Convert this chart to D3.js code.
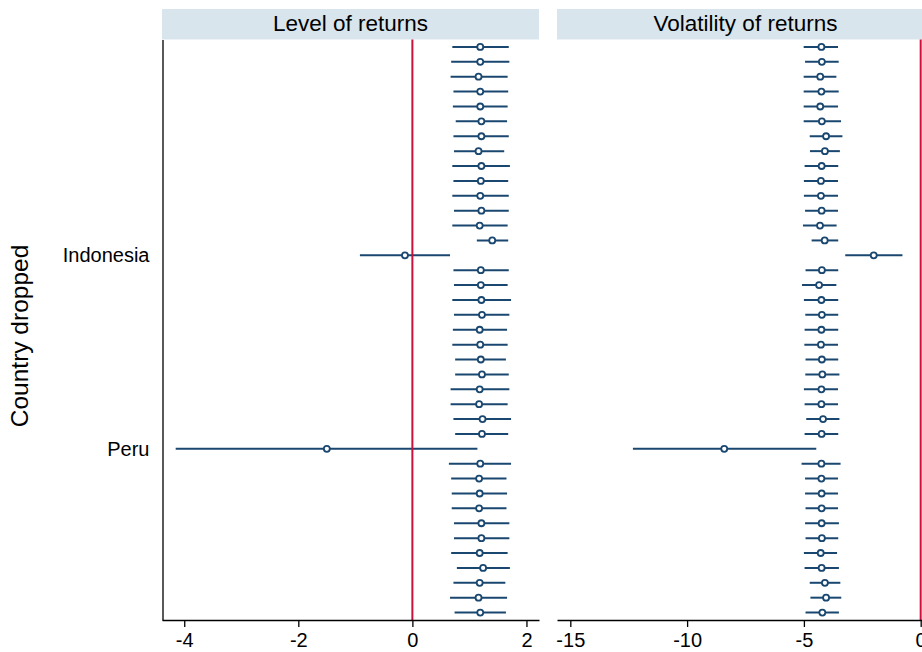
<!DOCTYPE html>
<html>
<head>
<meta charset="utf-8">
<script src="https://cdn.jsdelivr.net/npm/d3@7"></script>
<style>
  html, body { margin: 0; padding: 0; background: #fff; overflow: hidden; }
  svg { display: block; font-family: "Liberation Sans", Arial, Helvetica, sans-serif; }
</style>
</head>
<body>
<svg id="chart" width="922" height="652"></svg>
<script>
// Rows are numbered from the top; only a few carry a country label.
const rowCount = 39;
const labeledRows = [15, 28];
const labeledNames = ["Indonesia", "Peru"];

const panelTitles = ["Level of returns", "Volatility of returns"];
const levelTicks = [-4, -2, 0, 2];
const volTicks = [-15, -10, -5, 0];

// Level of returns: point estimates and confidence bounds
const levelEst = [1.19, 1.19, 1.16, 1.19, 1.19, 1.21, 1.21, 1.16, 1.21, 1.20,
                  1.19, 1.21, 1.18, 1.40, -0.13, 1.20, 1.20, 1.21, 1.22, 1.18,
                  1.19, 1.20, 1.22, 1.18, 1.17, 1.23, 1.22, -1.50, 1.19, 1.17,
                  1.18, 1.17, 1.21, 1.21, 1.18, 1.24, 1.18, 1.16, 1.19];
const levelLo  = [0.70, 0.68, 0.67, 0.72, 0.71, 0.76, 0.72, 0.73, 0.70, 0.72,
                  0.70, 0.73, 0.70, 1.13, -0.92, 0.72, 0.73, 0.70, 0.73, 0.71,
                  0.70, 0.75, 0.75, 0.67, 0.67, 0.72, 0.75, -4.15, 0.64, 0.68,
                  0.69, 0.69, 0.73, 0.73, 0.68, 0.78, 0.72, 0.66, 0.74];
const levelHi  = [1.69, 1.70, 1.67, 1.68, 1.67, 1.66, 1.69, 1.61, 1.71, 1.68,
                  1.69, 1.69, 1.67, 1.68, 0.66, 1.69, 1.67, 1.73, 1.70, 1.66,
                  1.67, 1.64, 1.69, 1.70, 1.67, 1.73, 1.68, 1.14, 1.73, 1.65,
                  1.66, 1.65, 1.70, 1.70, 1.67, 1.71, 1.63, 1.66, 1.64];

// Volatility of returns: point estimates and confidence bounds
const volEst = [-4.25, -4.23, -4.30, -4.25, -4.30, -4.23, -4.05, -4.10, -4.24, -4.27,
                -4.27, -4.24, -4.31, -4.11, -2.01, -4.23, -4.35, -4.25, -4.23, -4.25,
                -4.27, -4.23, -4.21, -4.25, -4.25, -4.18, -4.24, -8.41, -4.25, -4.25,
                -4.24, -4.24, -4.24, -4.23, -4.28, -4.24, -4.10, -4.05, -4.21];
const volLo  = [-5.01, -4.95, -5.01, -5.01, -5.01, -5.01, -4.75, -4.74, -4.97, -5.00,
                -5.00, -4.95, -5.04, -4.67, -3.23, -4.93, -5.08, -5.00, -4.94, -4.97,
                -4.98, -4.93, -4.94, -5.00, -4.97, -4.90, -4.97, -12.32, -5.10, -4.95,
                -4.95, -4.93, -4.95, -4.93, -5.00, -4.97, -4.75, -4.72, -4.93];
const volHi  = [-3.54, -3.51, -3.61, -3.51, -3.54, -3.41, -3.35, -3.46, -3.53, -3.54,
                -3.54, -3.54, -3.60, -3.53, -0.78, -3.53, -3.61, -3.53, -3.53, -3.53,
                -3.54, -3.53, -3.48, -3.54, -3.54, -3.48, -3.53, -4.47, -3.43, -3.54,
                -3.54, -3.54, -3.50, -3.53, -3.58, -3.50, -3.44, -3.40, -3.50];

const rows = d3.range(1, rowCount + 1);

const svg = d3.select("#chart");
const navy = "#1a476f";
const red = "#c9113d";
const strip = "#d9e5ec";

const plotTop = 39.5, plotBottom = 620, stripTop = 9;

const y = d3.scaleLinear().domain([0.5, rowCount + 0.5]).range([plotTop, plotBottom]);

const panels = [
  { title: panelTitles[0], x0: 162, x1: 539, domain: [-4.39, 2.22], ticks: levelTicks,
    est: levelEst, lo: levelLo, hi: levelHi, leftAxis: true },
  { title: panelTitles[1], x0: 557, x1: 934, domain: [-15.57, 0.57], ticks: volTicks,
    est: volEst, lo: volLo, hi: volHi, leftAxis: false }
];

panels.forEach(p => {
  const x = d3.scaleLinear().domain(p.domain).range([p.x0, p.x1]);
  const g = svg.append("g");

  // header strip
  g.append("rect")
    .attr("x", p.x0).attr("y", stripTop)
    .attr("width", p.x1 - p.x0).attr("height", plotTop - stripTop)
    .attr("fill", strip);
  g.append("text")
    .attr("x", (p.x0 + p.x1) / 2).attr("y", 31)
    .attr("text-anchor", "middle")
    .attr("font-size", "22.5px").attr("fill", "#000")
    .text(p.title);

  // confidence intervals
  g.selectAll("line.ci").data(rows).enter().append("line")
    .attr("class", "ci")
    .attr("x1", (r, i) => x(p.lo[i])).attr("x2", (r, i) => x(p.hi[i]))
    .attr("y1", r => y(r)).attr("y2", r => y(r))
    .attr("stroke", navy).attr("stroke-width", 2);

  // reference line at zero
  g.append("line")
    .attr("x1", x(0)).attr("x2", x(0))
    .attr("y1", plotTop).attr("y2", plotBottom)
    .attr("stroke", red).attr("stroke-width", 2);

  // point estimates
  g.selectAll("circle.pt").data(rows).enter().append("circle")
    .attr("class", "pt")
    .attr("cx", (r, i) => x(p.est[i])).attr("cy", r => y(r))
    .attr("r", 3)
    .attr("fill", "#fff").attr("stroke", navy).attr("stroke-width", 1.8);

  // x axis
  const ax = g.append("g")
    .attr("transform", `translate(0,${plotBottom})`)
    .call(d3.axisBottom(x).tickValues(p.ticks).tickFormat(d => String(d))
      .tickSize(7).tickSizeOuter(0).tickPadding(6));
  ax.select(".domain").attr("stroke", "#000").attr("stroke-width", 1.3);
  ax.selectAll(".tick line").attr("stroke", "#000").attr("stroke-width", 1.3);
  ax.selectAll(".tick text").attr("font-size", "20px").attr("fill", "#000")
    .attr("font-family", "Liberation Sans, Arial, Helvetica, sans-serif");

  if (p.leftAxis) {
    const ay = g.append("g")
      .attr("transform", `translate(${p.x0 + 0.5},0)`)
      .call(d3.axisLeft(y).tickValues(labeledRows)
        .tickFormat(r => labeledNames[labeledRows.indexOf(r)])
        .tickSize(0).tickSizeOuter(0).tickPadding(13));
    ay.select(".domain").attr("stroke", "#000").attr("stroke-width", 1.3);
    ay.selectAll(".tick text").attr("font-size", "20px").attr("fill", "#000")
      .attr("font-family", "Liberation Sans, Arial, Helvetica, sans-serif");
  }
});

// y axis title
svg.append("text")
  .attr("transform", "translate(28,336) rotate(-90)")
  .attr("text-anchor", "middle")
  .attr("font-size", "24.5px").attr("fill", "#000")
  .text("Country dropped");
</script>
</body>
</html>
